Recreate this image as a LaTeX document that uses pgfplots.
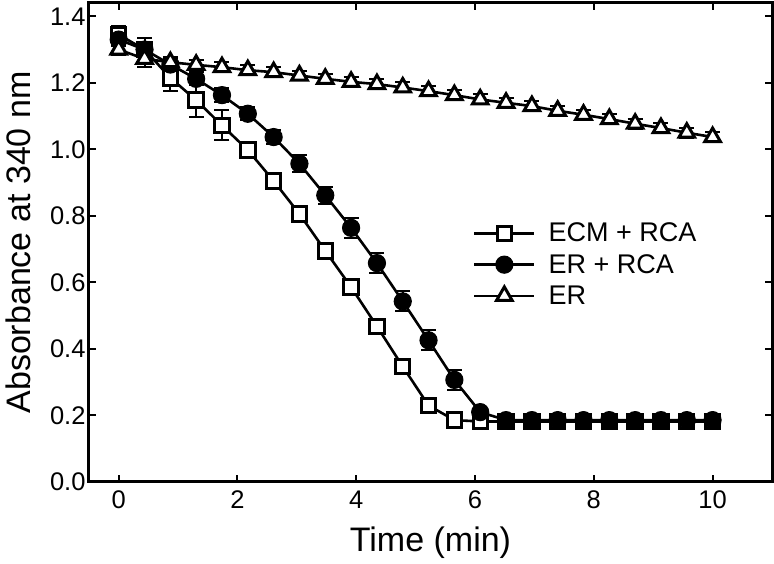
\documentclass[border=0pt]{standalone}
\usepackage{fontspec}
\setmainfont{Liberation Sans}
\usepackage{pgfplots}
\usepackage{pgfplotstable}
\pgfplotsset{compat=1.18}

\pgfplotstableread{
x y e
0.000 1.345 0.025
0.435 1.300 0.020
0.870 1.215 0.040
1.304 1.148 0.050
1.739 1.072 0.045
2.174 0.998 0.020
2.609 0.905 0.010
3.043 0.806 0.010
3.478 0.695 0.010
3.913 0.586 0.010
4.348 0.468 0.010
4.783 0.347 0.010
5.217 0.230 0.010
5.652 0.186 0.010
6.087 0.182 0.010
6.522 0.182 0.010
6.957 0.182 0.010
7.391 0.182 0.010
7.826 0.182 0.010
8.261 0.182 0.010
8.696 0.182 0.010
9.130 0.182 0.010
9.565 0.182 0.010
10.000 0.182 0.010
}\ecm

\pgfplotstableread{
x y e
0.000 1.330 0.020
0.435 1.300 0.035
0.870 1.255 0.020
1.304 1.212 0.020
1.739 1.163 0.020
2.174 1.107 0.020
2.609 1.037 0.020
3.043 0.957 0.025
3.478 0.862 0.025
3.913 0.764 0.030
4.348 0.658 0.030
4.783 0.543 0.030
5.217 0.426 0.030
5.652 0.307 0.030
6.087 0.210 0.010
6.522 0.186 0.010
6.957 0.186 0.010
7.391 0.186 0.010
7.826 0.186 0.010
8.261 0.186 0.010
8.696 0.186 0.010
9.130 0.186 0.010
9.565 0.186 0.010
10.000 0.186 0.010
}\errca

\pgfplotstableread{
x y e
0.000 1.300 0.015
0.435 1.272 0.025
0.870 1.262 0.015
1.304 1.254 0.015
1.739 1.247 0.015
2.174 1.238 0.015
2.609 1.232 0.015
3.043 1.222 0.015
3.478 1.212 0.015
3.913 1.203 0.015
4.348 1.196 0.015
4.783 1.186 0.015
5.217 1.175 0.015
5.652 1.163 0.015
6.087 1.150 0.015
6.522 1.140 0.015
6.957 1.130 0.015
7.391 1.116 0.015
7.826 1.104 0.015
8.261 1.091 0.015
8.696 1.077 0.015
9.130 1.064 0.015
9.565 1.050 0.015
10.000 1.037 0.015
}\er

\begin{document}
\begin{tikzpicture}
\begin{axis}[
  scale only axis, width=683pt, height=479pt,
  xmin=-0.5, xmax=11, ymin=0, ymax=1.44,
  xtick={0,2,4,6,8,10},
  ytick={0,0.2,0.4,0.6,0.8,1.0,1.2,1.4},
  yticklabel style={/pgf/number format/fixed, /pgf/number format/fixed zerofill, /pgf/number format/precision=1},
  /pgf/number format/assume math mode=true,
  tick label style={font=\fontsize{25.5}{29}\selectfont},
  xticklabel style={yshift=-5pt},
  tick align=inside, tick pos=both,
  major tick length=7pt,
  every tick/.style={black, line width=2pt},
  axis line style={line width=3pt},
  every axis x label/.style={at={(axis description cs:0.5,-0.127)}, anchor=center, font=\fontsize{34}{38}\selectfont},
  every axis y label/.style={at={(axis description cs:-0.104,0.5)}, rotate=90, anchor=center, font=\fontsize{34}{38}\selectfont},
  xlabel={Time (min)},
  ylabel={Absorbance at 340 nm},
  legend style={draw=none, fill=none, at={(rel axis cs:0.562,0.545)}, anchor=north west,
    font=\fontsize{27}{30}\selectfont, row sep=7pt, column sep=11pt, inner sep=0pt,
    legend cell align=left},
  legend image code/.code={\draw[mark repeat=2,mark phase=2,#1] plot coordinates {(0pt,0pt) (30pt,0pt) (60pt,0pt)};},
]
\addplot[black, line width=2.6pt, mark=square*, mark size=7.2pt,
  mark options={fill=white, draw=black, line width=3pt, solid},
  error bars/.cd, y dir=both, y explicit,
  error bar style={line width=2pt, black},
  error mark options={rotate=90, line width=2pt, mark size=7.5pt, black}]
  table[x=x, y=y, y error=e] {\ecm};
\addlegendentry{ECM + RCA}
\addplot[black, line width=2.6pt, mark=*, mark size=8.6pt,
  mark options={fill=black, draw=black, line width=1pt, solid},
  error bars/.cd, y dir=both, y explicit,
  error bar style={line width=2pt, black},
  error mark options={rotate=90, line width=2pt, mark size=7.5pt, black}]
  table[x=x, y=y, y error=e] {\errca};
\addlegendentry{ER + RCA}
\addplot[black, line width=2.6pt, mark=triangle*, mark size=9pt,
  mark options={fill=white, draw=black, line width=3pt, solid},
  error bars/.cd, y dir=both, y explicit,
  error bar style={line width=2pt, black},
  error mark options={rotate=90, line width=2pt, mark size=7.5pt, black}]
  table[x=x, y=y, y error=e] {\er};
\addlegendentry{ER}
\end{axis}
\pgfresetboundingbox
\useasboundingbox ([shift={(-89pt,-82pt)}]current axis.south west) rectangle ([shift={(2pt,3pt)}]current axis.north east);
\end{tikzpicture}
\end{document}
